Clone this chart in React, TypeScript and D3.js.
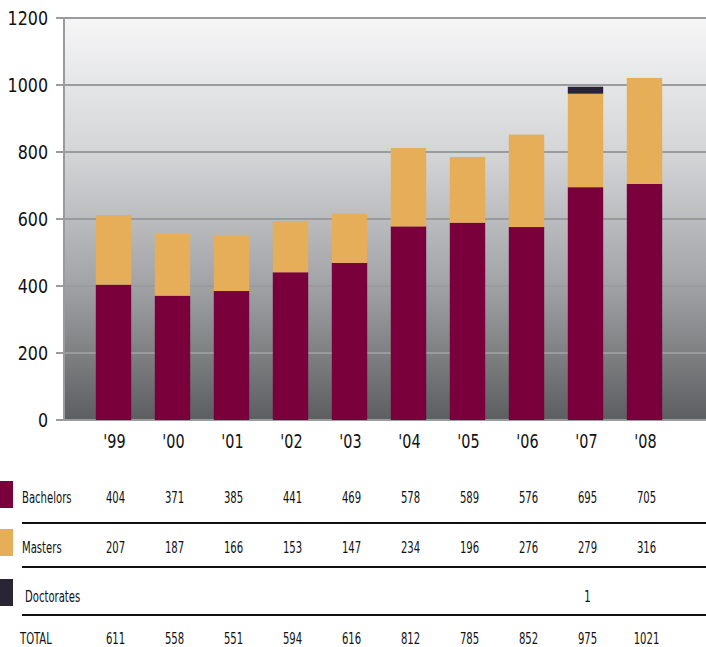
import React from "react";
import * as d3 from "d3";

const years = ["'99", "'00", "'01", "'02", "'03", "'04", "'05", "'06", "'07", "'08"];
const bachelors = [404, 371, 385, 441, 469, 578, 589, 576, 695, 705];
const masters = [207, 187, 166, 153, 147, 234, 196, 276, 279, 316];
const doctorates = [0, 0, 0, 0, 0, 0, 0, 0, 1, 0];
const totals = [611, 558, 551, 594, 616, 812, 785, 852, 975, 1021];
const yTicks = [0, 200, 400, 600, 800, 1000, 1200];

const seriesNames = ["Bachelors", "Masters", "Doctorates"];
const colors = ["#7a003c", "#e6ae58", "#2a2535"];

const W = 706, H = 647;
const font = "'DejaVu Sans Condensed', 'DejaVu Sans', sans-serif";

// narrow text: condensed font squeezed horizontally
function T(props: { x: number; y: number; size: number; sx: number; anchor?: string; children: any }) {
  return (
    <text
      transform={`translate(${props.x},${props.y}) scale(${props.sx},1)`}
      textAnchor={props.anchor || "start"}
      fontFamily={font}
      fontSize={props.size}
      fill="#111"
    >
      {props.children}
    </text>
  );
}

export default function App() {
  const x = d3.scaleBand<string>().domain(years).range([84, 674]).paddingInner(0.4).paddingOuter(0.2);
  const y = d3.scaleLinear().domain([0, 1200]).range([420, 18]);

  const rows = years.map((yr, i) => ({ yr, b: bachelors[i], m: masters[i], d: doctorates[i] }));
  const stack = d3.stack<any>().keys(["b", "m", "d"])(rows);

  const cx = (i: number) => (x(years[i]) as number) + x.bandwidth() / 2;
  const tableRows = [
    { vals: bachelors.map(String), base: 503, sw: [481, 508], lx: 22 },
    { vals: masters.map(String), base: 553, sw: [529, 556], lx: 22 },
    { vals: doctorates.map(v => (v ? String(v) : "")), base: 602, sw: [579, 606], lx: 25 },
  ];

  return (
    <svg width={W} height={H} style={{ position: "absolute", left: 0, top: 0, background: "#fff" }}>
      <defs>
        <linearGradient id="bg" x1="0" y1="0" x2="0" y2="1">
          <stop offset="0" stopColor="#f6f6f7" />
          <stop offset="0.35" stopColor="#d2d3d5" />
          <stop offset="0.65" stopColor="#a4a5a8" />
          <stop offset="1" stopColor="#5d5e60" />
        </linearGradient>
      </defs>
      <rect x={64} y={y(1200)} width={W - 64} height={y(0) - y(1200)} fill="url(#bg)" />
      {yTicks.map(t => (
        <g key={t}>
          <line x1={56} x2={W} y1={y(t)} y2={y(t)} stroke="#9a9b9d" strokeWidth={2} />
          <T x={48} y={y(t) + 7} size={19} sx={0.93} anchor="end">{t}</T>
        </g>
      ))}
      <line x1={64} x2={64} y1={y(1200)} y2={y(0) + 1} stroke="#9a9b9d" strokeWidth={2} />
      {stack.map((s, si) => (
        <g key={si} fill={colors[si]}>
          {s.map((d, i) => {
            if (d[1] - d[0] <= 0) return null;
            const top = y(d[1]);
            const bottom = y(d[0]);
            const h = si === 2 ? Math.max(bottom - top, 7) : bottom - top;
            return <rect key={i} x={x(years[i])} y={bottom - h} width={x.bandwidth()} height={h} />;
          })}
        </g>
      ))}
      {years.map((yr, i) => (
        <T key={yr} x={cx(i) + 1} y={448} size={20} sx={0.8} anchor="middle">{yr}</T>
      ))}
      {tableRows.map((r, ri) => (
        <g key={ri}>
          <rect x={0} y={r.sw[0]} width={13} height={r.sw[1] - r.sw[0]} fill={colors[ri]} />
          <T x={r.lx} y={r.base} size={16} sx={0.7}>{seriesNames[ri]}</T>
          {r.vals.map((v, i) => (
            <T key={i} x={cx(i) + 2} y={r.base} size={16} sx={0.7} anchor="middle">{v}</T>
          ))}
        </g>
      ))}
      {[523, 567, 615].map(ly => (
        <line key={ly} x1={22} x2={W} y1={ly} y2={ly} stroke="#111" strokeWidth={2} />
      ))}
      <T x={20} y={644} size={16} sx={0.7}>TOTAL</T>
      {totals.map((v, i) => (
        <T key={i} x={cx(i) + 2} y={644} size={16} sx={0.7} anchor="middle">{v}</T>
      ))}
    </svg>
  );
}
